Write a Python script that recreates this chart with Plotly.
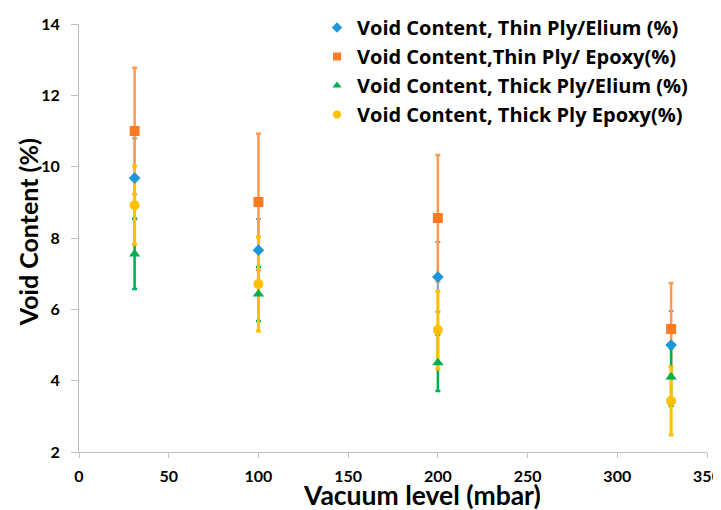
import plotly.graph_objects as go

vacuum = [31, 100, 200, 330]

names = ["Void Content, Thin Ply/Elium (%)",
         "Void Content,Thin Ply/ Epoxy(%)",
         "Void Content, Thick Ply/Elium (%)",
         "Void Content, Thick Ply Epoxy(%)"]

thin_elium = [9.68, 7.66, 6.91, 5.00]
thin_elium_err = [1.12, 0.87, 0.98, 0.95]

thin_epoxy = [11.00, 9.01, 8.56, 5.45]
thin_epoxy_err = [1.77, 1.91, 1.77, 1.29]

thick_elium = [7.55, 6.43, 4.50, 4.10]
thick_elium_err = [0.98, 0.76, 0.79, 0.81]

thick_epoxy = [8.92, 6.71, 5.42, 3.43]
thick_epoxy_err = [1.10, 1.32, 1.09, 0.95]

x_ticks = [0, 50, 100, 150, 200, 250, 300, 350]
y_ticks = [2, 4, 6, 8, 10, 12, 14]

series = [thin_elium, thin_epoxy, thick_elium, thick_epoxy]
errors = [thin_elium_err, thin_epoxy_err, thick_elium_err, thick_epoxy_err]
marker_colors = ["#1F96D6", "#FF7A21", "#00AF4F", "#FFC000"]
err_colors = ["#7F9FBF", "#FF9A4F", "#00AF4F", "#FFC000"]
err_thick = [2, 2.5, 2.5, 3]
symbols = ["diamond", "square", "triangle-up", "circle"]
sizes = [9, 10, 10, 10]

FONT = "Lato"

fig = go.Figure()

# error bars first (drawn beneath all markers)
for y, e, ec, t in zip(series, errors, err_colors, err_thick):
    fig.add_trace(go.Scatter(
        x=vacuum, y=y, mode="markers",
        marker=dict(color="rgba(0,0,0,0)", size=1),
        error_y=dict(type="data", array=e, visible=True, color=ec,
                     thickness=t, width=2.5),
        showlegend=False, hoverinfo="skip"))

# markers
for y, n, c, s, sz in zip(series, names, marker_colors, symbols, sizes):
    fig.add_trace(go.Scatter(
        x=vacuum, y=y, mode="markers", name=n,
        marker=dict(color=c, symbol=s, size=sz, line=dict(width=0)),
        showlegend=False))

# legend entries
for n, c, s in zip(names, marker_colors, symbols):
    fig.add_trace(go.Scatter(
        x=[None], y=[None], mode="markers", name=n,
        marker=dict(color=c, symbol=s, size=8, line=dict(width=0))))

fig.update_layout(
    width=721, height=510,
    margin=dict(l=71, r=22, t=16, b=66, autoexpand=False),
    paper_bgcolor="white", plot_bgcolor="white",
    font=dict(family=FONT, color="black"),
    legend=dict(x=0.379, y=1.0, xanchor="left", yanchor="top",
                yref="container",
                font=dict(family="Open Sans", size=20, color="black",
                          weight="bold"),
                bgcolor="rgba(0,0,0,0)", itemsizing="trace"),
    xaxis=dict(range=[0, 350], tickvals=x_ticks, automargin=False,
               showgrid=False, zeroline=False,
               showline=True, linecolor="#BFBFBF", linewidth=1,
               ticks="outside", tickcolor="#BFBFBF", ticklen=5,
               ticklabelstandoff=5,
               tickfont=dict(family=FONT, size=16, weight="bold")),
    yaxis=dict(range=[2, 14], tickvals=y_ticks, automargin=False,
               showgrid=False, zeroline=False,
               showline=True, linecolor="#BFBFBF", linewidth=1,
               ticks="outside", tickcolor="#BFBFBF", ticklen=7,
               ticklabelstandoff=8,
               tickfont=dict(family=FONT, size=16, weight="bold")),
    annotations=[
        dict(text="<b>Vacuum level (mbar)</b>", xref="paper", yref="paper",
             x=0.546, y=-0.101, xanchor="center", yanchor="middle",
             showarrow=False,
             font=dict(family=FONT, size=26.5, color="black")),
        dict(text="<b>Void Content (%)</b>", xref="paper", yref="paper",
             x=-0.081, y=0.514, xanchor="center", yanchor="middle",
             textangle=-90,
             showarrow=False, font=dict(family=FONT, size=25, color="black")),
    ],
)

fig.write_html("out.html")
